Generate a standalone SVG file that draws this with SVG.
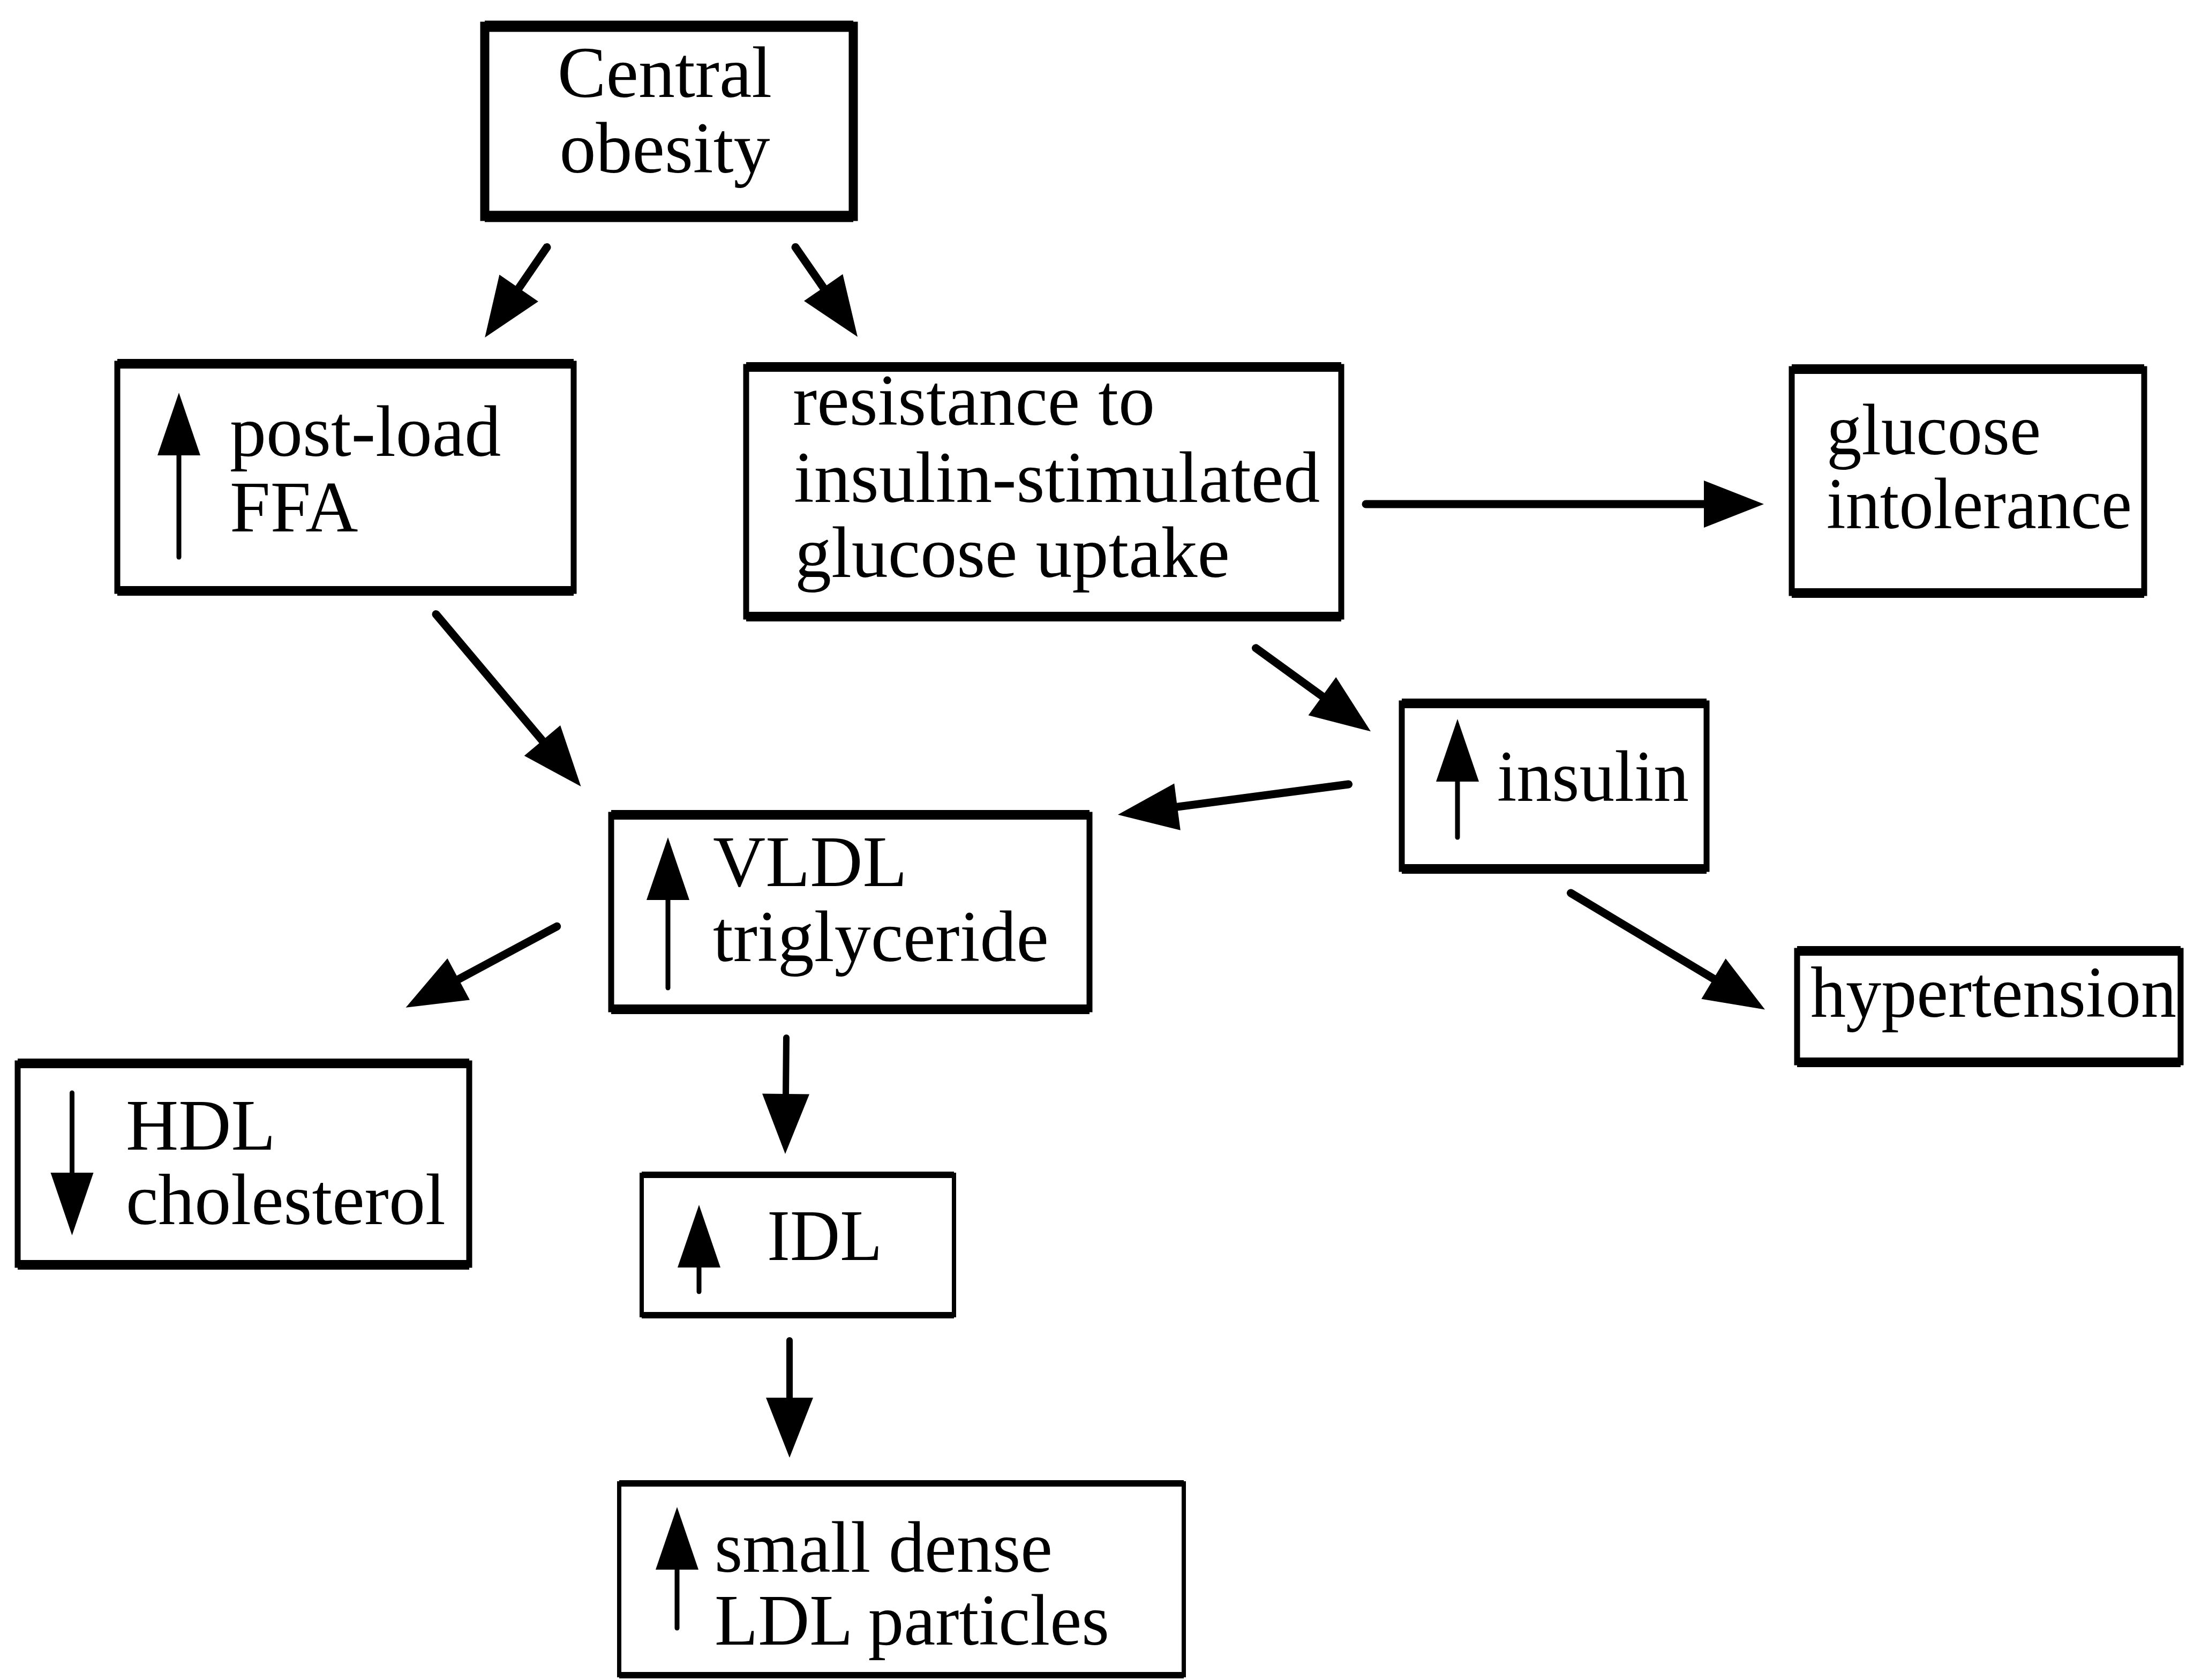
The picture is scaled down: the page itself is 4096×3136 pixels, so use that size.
<svg xmlns="http://www.w3.org/2000/svg" width="4096" height="3136" viewBox="0 0 4096 3136">
<style>
.bg{fill:#fff}
.box{fill:#fff;stroke:#000;stroke-width:11}
.tb{fill:none;stroke:#000;stroke-width:18}
.heavy .box{stroke-width:17}
.heavy .tb{stroke-width:21}
.thin .box{stroke-width:8}
.thin .tb{stroke-width:12}
.t{font-family:"Liberation Serif","Times New Roman",serif;font-size:136px;fill:#000}
.conn{fill:none;stroke:#000;stroke-width:15;stroke-linecap:round}
.conn.slim{stroke-width:12}
.ind{fill:none;stroke:#000;stroke-width:9;stroke-linecap:round}
</style>
<defs>
<marker id="head" markerUnits="userSpaceOnUse" viewBox="-4 -47 118 94" markerWidth="118" markerHeight="94" refX="0" refY="0" orient="auto">
<path d="M-2,-44 L110,0 L-2,44 Z" fill="#000"/>
</marker>
<marker id="ihead" markerUnits="userSpaceOnUse" viewBox="-4 -42 120 84" markerWidth="120" markerHeight="84" refX="0" refY="0" orient="auto">
<path d="M-2,-40 L115,0 L-2,40 Z" fill="#000"/>
</marker>
</defs>
<rect class="bg" x="0" y="0" width="4096" height="3136"/>

<g id="connectors">
<line class="conn" x1="1021" y1="461.5" x2="967.5" y2="539.4" marker-end="url(#head)"/>
<line class="conn" x1="1485" y1="461.5" x2="1538.3" y2="538.4" marker-end="url(#head)"/>
<line class="conn" x1="814" y1="1146.6" x2="1013.7" y2="1383.9" marker-end="url(#head)"/>
<line class="conn" x1="2550" y1="941" x2="3183" y2="941" marker-end="url(#head)"/>
<line class="conn" x1="2344.5" y1="1209.8" x2="2470" y2="1300.8" marker-end="url(#head)"/>
<line class="conn" x1="2517.6" y1="1464" x2="2196" y2="1506.4" marker-end="url(#head)"/>
<line class="conn" x1="1039.7" y1="1729.3" x2="854.4" y2="1828.8" marker-end="url(#head)"/>
<line class="conn slim" x1="1468" y1="1937" x2="1467" y2="2044" marker-end="url(#head)"/>
<line class="conn slim" x1="1474" y1="2502" x2="1474" y2="2611" marker-end="url(#head)"/>
<line class="conn" x1="2932.5" y1="1667" x2="3200.7" y2="1828" marker-end="url(#head)"/>
</g>

<g id="central-obesity" class="heavy">
<rect class="box" x="905" y="49" width="688" height="355"/>
<path class="tb" d="M905,49 H1593 M905,404 H1593"/>
<text class="t" x="1241" y="181" text-anchor="middle">Central</text>
<text class="t" x="1241" y="322" text-anchor="middle">obesity</text>
</g>

<g id="post-load-ffa">
<rect class="box" x="219" y="679" width="852" height="424"/>
<path class="tb" d="M219,679 H1071 M219,1103 H1071"/>
<line class="ind" x1="334" y1="1040" x2="334" y2="848" marker-end="url(#ihead)"/>
<text class="t" x="429" y="851">post-load</text>
<text class="t" x="429" y="992">FFA</text>
</g>

<g id="insulin-resistance">
<rect class="box" x="1393" y="685" width="1111" height="466"/>
<path class="tb" d="M1393,685 H2504 M1393,1151 H2504"/>
<text class="t" x="1480" y="793">resistance to</text>
<text class="t" x="1482" y="937">insulin-stimulated</text>
<text class="t" x="1484" y="1077">glucose uptake</text>
</g>

<g id="glucose-intolerance">
<rect class="box" x="3345" y="689" width="658" height="418"/>
<path class="tb" d="M3345,689 H4003 M3345,1107 H4003"/>
<text class="t" x="3410" y="848" textLength="400" lengthAdjust="spacingAndGlyphs">glucose</text>
<text class="t" x="3410" y="986" textLength="570" lengthAdjust="spacingAndGlyphs">intolerance</text>
</g>

<g id="insulin">
<rect class="box" x="2617" y="1313" width="569" height="309"/>
<path class="tb" d="M2617,1313 H3186 M2617,1622 H3186"/>
<line class="ind" x1="2721" y1="1563" x2="2721" y2="1457" marker-end="url(#ihead)"/>
<text class="t" x="2795" y="1495" textLength="358" lengthAdjust="spacingAndGlyphs">insulin</text>
</g>

<g id="vldl-triglyceride">
<rect class="box" x="1141" y="1521" width="893" height="363"/>
<path class="tb" d="M1141,1521 H2034 M1141,1884 H2034"/>
<line class="ind" x1="1247" y1="1844" x2="1247" y2="1678" marker-end="url(#ihead)"/>
<text class="t" x="1331" y="1654">VLDL</text>
<text class="t" x="1331" y="1794">triglyceride</text>
</g>

<g id="hypertension">
<rect class="box" x="3355" y="1775" width="716" height="208"/>
<path class="tb" d="M3355,1775 H4071 M3355,1983 H4071"/>
<text class="t" x="3380" y="1898" textLength="683" lengthAdjust="spacingAndGlyphs">hypertension</text>
</g>

<g id="hdl-cholesterol">
<rect class="box" x="33" y="1985" width="843" height="376"/>
<path class="tb" d="M33,1985 H876 M33,2361 H876"/>
<line class="ind" x1="134.5" y1="2040" x2="134.5" y2="2191" marker-end="url(#ihead)"/>
<text class="t" x="235" y="2146">HDL</text>
<text class="t" x="235" y="2285">cholesterol</text>
</g>

<g id="idl" class="thin">
<rect class="box" x="1198" y="2193" width="583" height="262"/>
<path class="tb" d="M1198,2193 H1781 M1198,2455 H1781"/>
<line class="ind" x1="1305" y1="2411" x2="1305" y2="2364" marker-end="url(#ihead)"/>
<text class="t" x="1432" y="2352" textLength="215" lengthAdjust="spacingAndGlyphs">IDL</text>
</g>

<g id="small-dense-ldl" class="thin">
<rect class="box" x="1156" y="2769" width="1054" height="358"/>
<path class="tb" d="M1156,2769 H2210 M1156,3127 H2210"/>
<line class="ind" x1="1264" y1="3039" x2="1264" y2="2928" marker-end="url(#ihead)"/>
<text class="t" x="1334" y="2934" textLength="631" lengthAdjust="spacingAndGlyphs">small dense</text>
<text class="t" x="1334" y="3070" textLength="737" lengthAdjust="spacingAndGlyphs">LDL particles</text>
</g>
</svg>
